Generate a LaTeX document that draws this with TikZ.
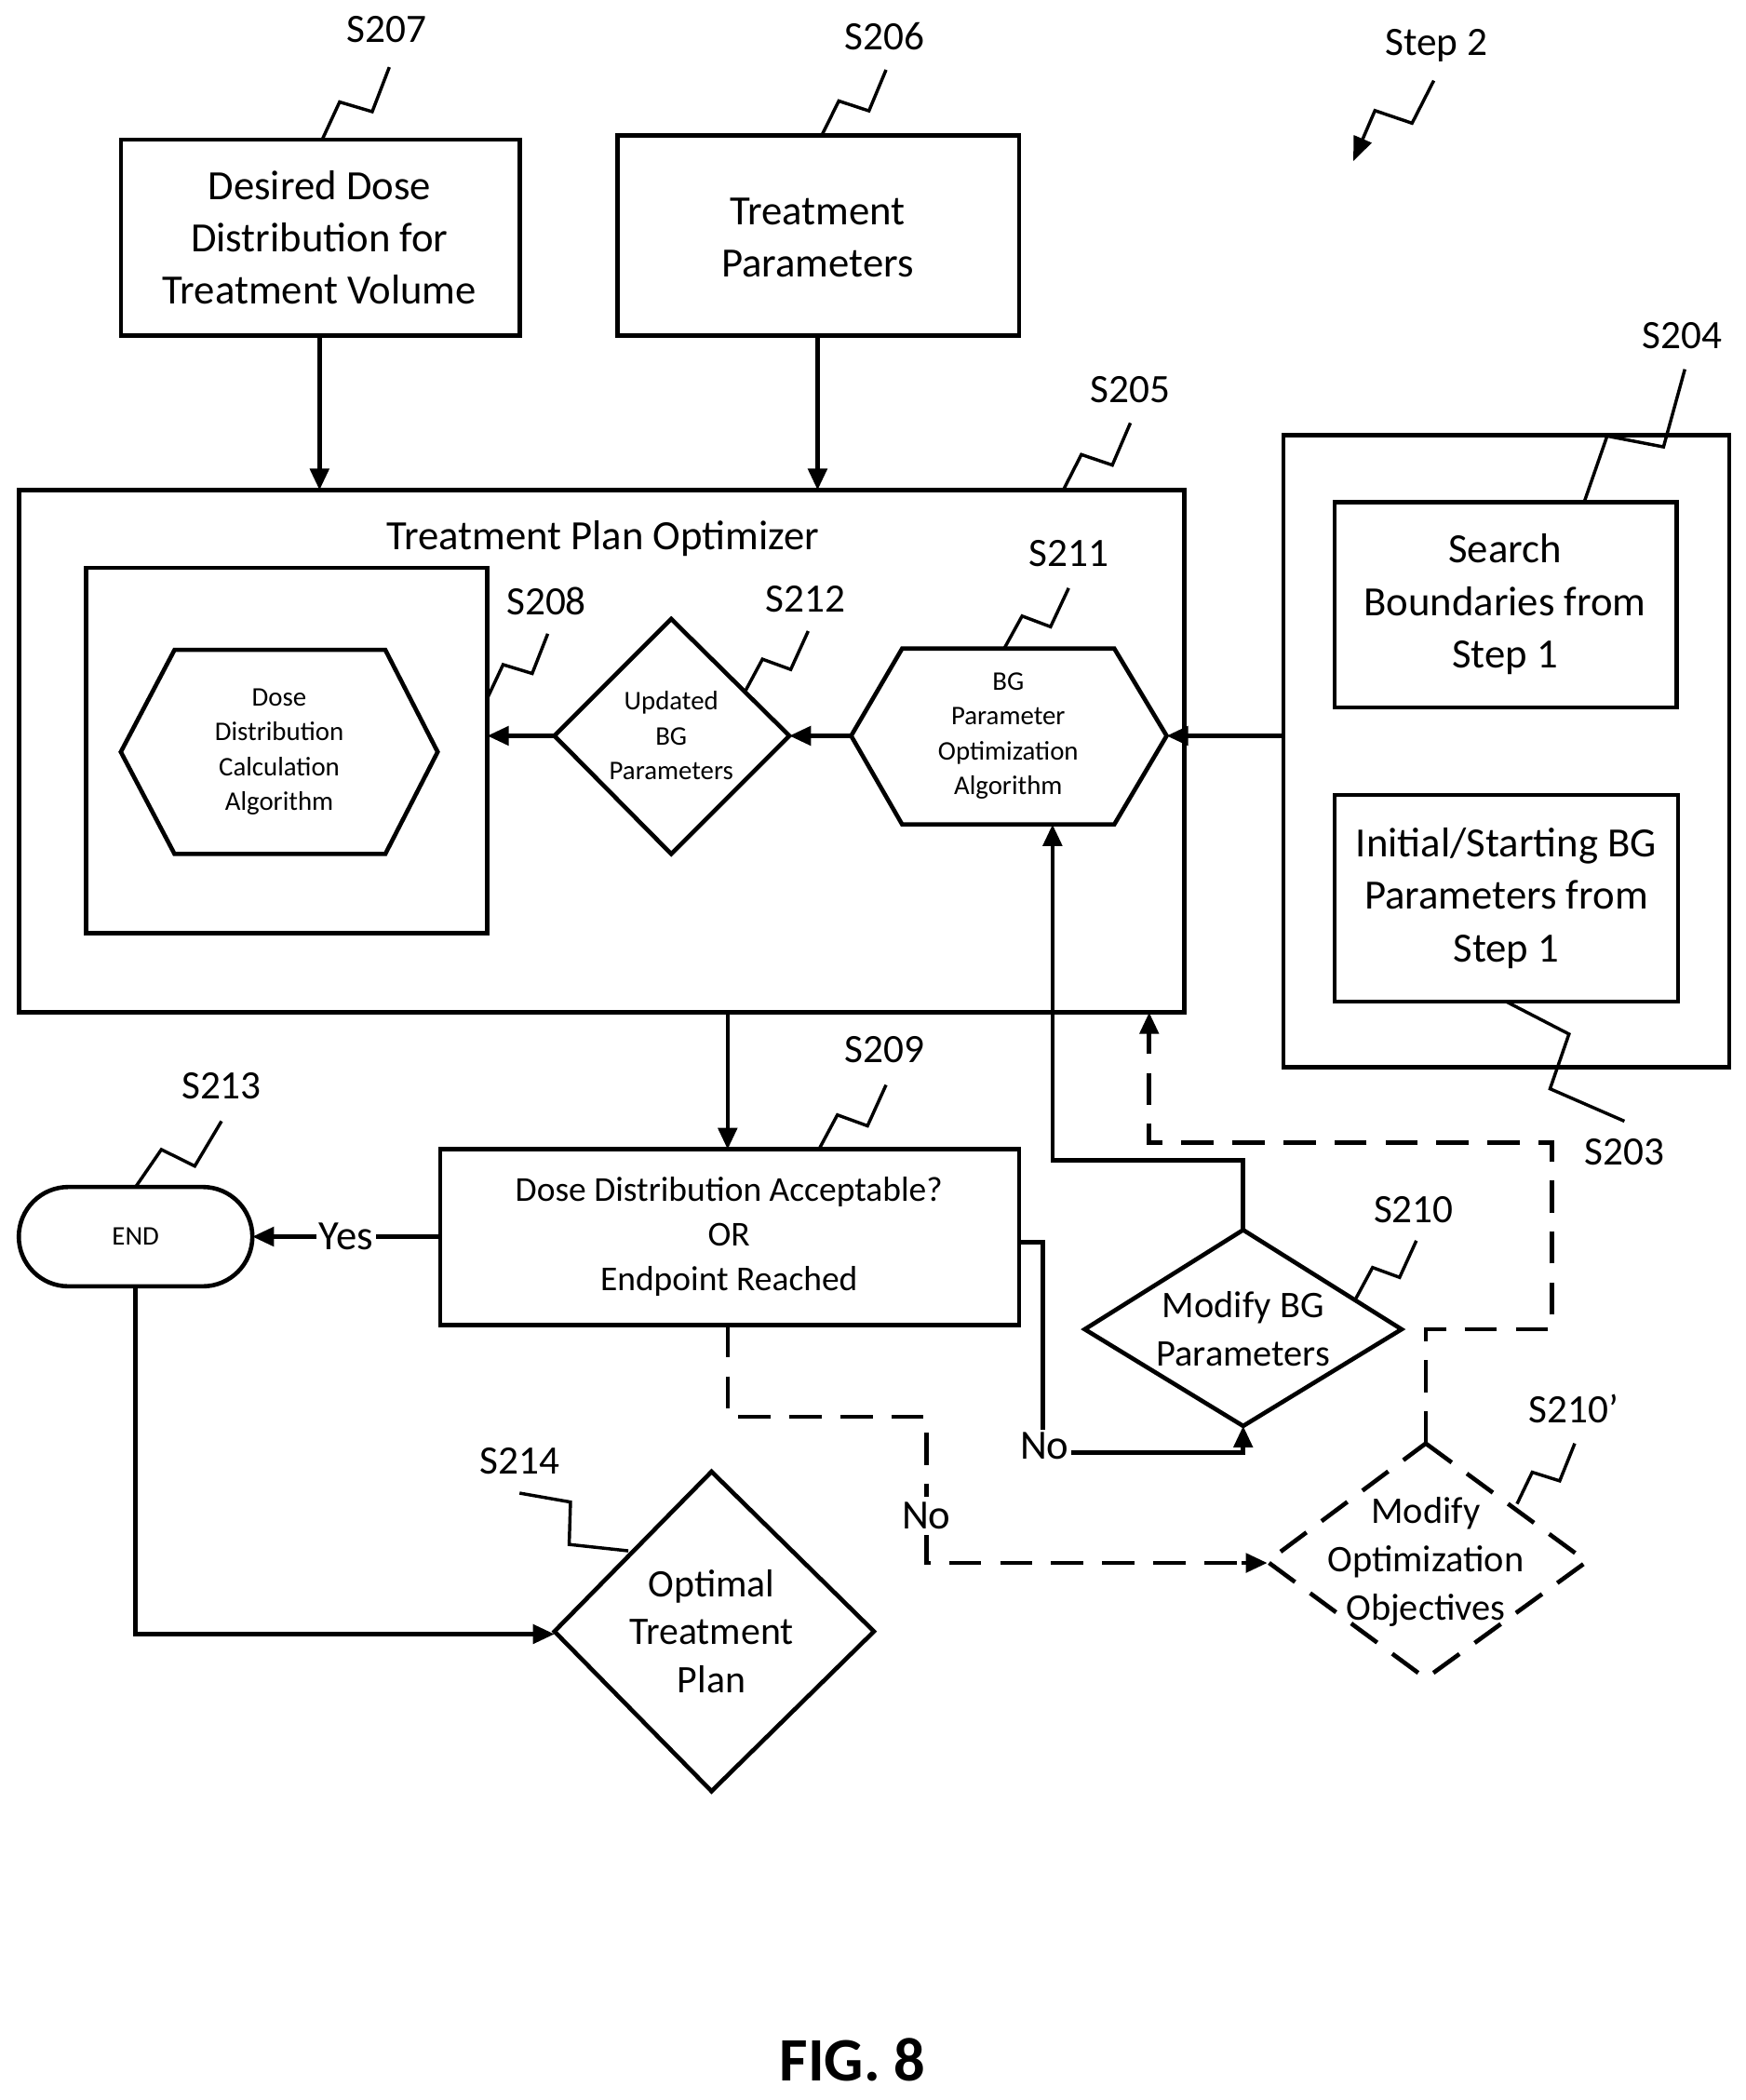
\documentclass[tikz,border=0pt]{standalone}
\usepackage{fontspec}
\setmainfont{Carlito}
\usetikzlibrary{calc,arrows.meta}
\begin{document}
\begin{tikzpicture}[x=0.5pt,y=-0.5pt,
  ln/.style={line width=1.6pt},
  arr/.style={ln,-{Triangle[length=8pt,width=7pt]}},
  dsh/.style={dash pattern=on 12pt off 7pt},
  txt/.style={align=center,font=\fontsize{15.5}{19.5}\selectfont},
  sm/.style={align=center,font=\fontsize{10}{13}\selectfont},
  mid/.style={align=center,font=\fontsize{13}{16.5}\selectfont},
  lab/.style={font=\fontsize{15}{18}\selectfont}]
\newcommand{\sqg}[2]{\draw[line width=1.2pt] (#1) -- ($(#1)!0.42!18:(#2)$) -- ($(#1)!0.58!-18:(#2)$) -- (#2);}
\useasboundingbox (0,0) rectangle (1300,1564);
% boxes
\draw[ln] (90,104) rectangle (387,250);
\node[txt] (s207) at (238,177) {Desired Dose\\Distribution for\\Treatment Volume};
\draw[ln] (460,101) rectangle (759,250);
\node[txt] (s206) at (609,177) {Treatment\\Parameters};
\draw[ln] (14,365) rectangle (882,754);
\node[txt] (opt) at (449,401) {Treatment Plan Optimizer};
\draw[ln] (64,423) rectangle (363,695);
\draw[ln] (90,560)--(130,484)--(287,484)--(326,560)--(287,636)--(130,636)--cycle;
\node[sm] (s208) at (208,560) {Dose\\Distribution\\Calculation\\Algorithm};
\draw[ln] (500,461)--(588,548)--(500,636)--(413,548)--cycle;
\node[sm] (s212) at (500,548) {Updated\\BG\\Parameters};
\draw[ln] (634,548)--(672,483)--(830,483)--(869,548)--(830,614)--(672,614)--cycle;
\node[sm] (s211) at (751,548) {BG\\Parameter\\Optimization\\Algorithm};
\draw[ln] (956,324) rectangle (1288,795);
\draw[ln] (994,374) rectangle (1249,527);
\node[txt] (s204) at (1121,450) {Search\\Boundaries from\\Step 1};
\draw[ln] (994,592) rectangle (1250,746);
\node[txt] (s203) at (1122,669) {Initial/Starting BG\\Parameters from\\Step 1};
\draw[ln] (328,856) rectangle (759,987);
\node[mid] (s209) at (543,921) {Dose Distribution Acceptable?\\OR\\Endpoint Reached};
\draw[ln,rounded corners=37pt/2] (14,884) rectangle (188,958);
\node[sm] (end) at (101,921) {END};
\draw[ln] (530,1096)--(651,1215)--(530,1334)--(413,1215)--cycle;
\node[txt,font=\fontsize{14.5}{18}\selectfont] (s214) at (530,1215) {Optimal\\Treatment\\Plan};
\draw[ln] (926,916)--(1044,990)--(926,1062)--(808,990)--cycle;
\node[txt,font=\fontsize{14}{18}\selectfont] (s210) at (926,990) {Modify BG\\Parameters};
\draw[ln,dsh] (1062,1075)--(1182,1163)--(1062,1250)--(944,1163)--cycle;
\node[txt,font=\fontsize{14}{18}\selectfont] (s210p) at (1062,1163) {Modify\\Optimization\\Objectives};
% connectors
\draw[arr] (238,250)--(238,365);
\draw[arr] (609,250)--(609,365);
\draw[arr] (956,548)--(869,548);
\draw[arr] (634,548)--(588,548);
\draw[arr] (413,548)--(363,548);
\draw[arr] (542,754)--(542,856);
\draw[arr] (328,921)--(188,921);
\node[txt,fill=white,inner sep=1pt] (yes) at (258,921) {Yes};
\draw[arr] (101,958)--(101,1217)--(413,1217);
\draw[arr] (759,925)--(777,925)--(777,1082)--(926,1082)--(926,1062);
\node[txt,fill=white,inner sep=1pt] (no1) at (778,1077) {No};
\draw[arr] (926,916)--(926,864)--(784,864)--(784,614);
\draw[ln,dsh] (542,987)--(542,1055)--(690,1055)--(690,1164)--(935,1164);
\draw[arr] (925,1164)--(944,1164);
\node[txt,fill=white,inner sep=2pt] (no2) at (690,1129) {No};
\draw[ln,dsh] (1062,1075)--(1062,990)--(1156,990)--(1156,851)--(856,851)--(856,775);
\draw[arr] (856,780)--(856,754);
% labels
\node[lab] (l207) at (288,22) {S207}; \sqg{240,104}{290,50}
\node[lab] (l206) at (659,27) {S206}; \sqg{612,101}{660,52}
\node[lab] (st2) at (1070,34) {Step 2};
\draw[line width=1.2pt,-{Triangle[length=9pt,width=7pt]}] (1068,60) -- ($(1068,60)!0.42!18:(1008,120)$) -- ($(1068,60)!0.58!-18:(1008,120)$) -- (1008,120);
\node[lab] (l204) at (1253,250) {S204}; \sqg{1180,374}{1255,275}
\node[lab] (l205) at (842,290) {S205}; \sqg{792,365}{842,315}
\node[lab] (l211) at (796,412) {S211}; \sqg{748,483}{796,438}
\node[lab] (l212) at (600,446) {S212}; \sqg{555,515}{602,470}
\node[lab] (l208) at (407,448) {S208}; \sqg{363,520}{408,472}
\node[lab] (l209) at (659,782) {S209}; \sqg{610,856}{660,808}
\node[lab] (l213) at (165,809) {S213}; \sqg{101,884}{165,835}
\node[lab] (l203) at (1210,858) {S203}; \sqg{1122,746}{1210,835}
\node[lab] (l210) at (1053,901) {S210}; \sqg{1010,967}{1055,924}
\node[lab] (l210p) at (1172,1049) {S210'}; \sqg{1130,1120}{1173,1075}
\node[lab] (l214) at (387,1088) {S214}; \sqg{387,1112}{468,1155}
\node[font=\bfseries\fontsize{23}{26}\selectfont] (fig) at (635,1534) {FIG. 8};
\end{tikzpicture}
\end{document}
